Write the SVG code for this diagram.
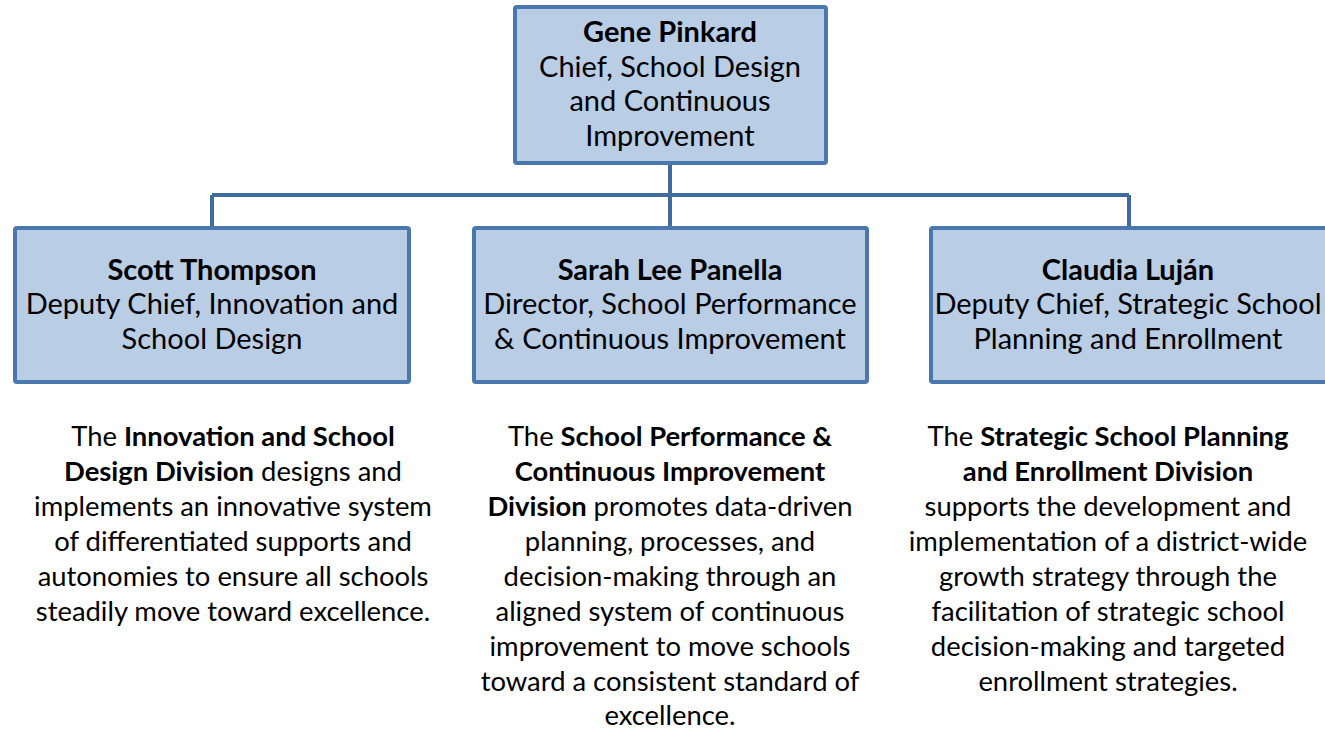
<svg xmlns="http://www.w3.org/2000/svg" width="1325" height="730" viewBox="0 0 1325 730">
<style>
.box{fill:#b9cde5;stroke:#4a78ae;stroke-width:4}
.con{fill:none;stroke:#3f6b9f;stroke-width:4}
text{font-family:Lato,"Liberation Sans",sans-serif;font-size:29px;fill:#000;text-anchor:middle}
.d text{font-size:27.4px}
.b{font-weight:bold}
</style>
<rect width="1325" height="730" fill="#fff"/>
<g id="connectors">
<path class="con" d="M670,163 V195 M212,195 H1129 M212,195 V228 M670,195 V228 M1129,195 V228"/>
</g>
<g id="node-gene">
<rect class="box" x="515" y="7" width="311" height="156" rx="2"/>
<text x="670" y="42" class="b">Gene Pinkard</text>
<text x="670" y="77">Chief, School Design</text>
<text x="670" y="111">and Continuous</text>
<text x="670" y="146">Improvement</text>
</g>
<g id="node-scott">
<rect class="box" x="15" y="228" width="394" height="154" rx="2"/>
<text x="212" y="280" class="b">Scott Thompson</text>
<text x="212" y="314">Deputy Chief, Innovation and</text>
<text x="212" y="349">School Design</text>
</g>
<g id="node-sarah">
<rect class="box" x="474" y="228" width="393" height="154" rx="2"/>
<text x="670" y="280" class="b">Sarah Lee Panella</text>
<text x="670" y="314">Director, School Performance</text>
<text x="670" y="349">&amp; Continuous Improvement</text>
</g>
<g id="node-claudia">
<rect class="box" x="931" y="228" width="396" height="154" rx="2"/>
<text x="1128" y="280" class="b">Claudia Luján</text>
<text x="1128" y="314">Deputy Chief, Strategic School</text>
<text x="1128" y="349">Planning and Enrollment</text>
</g>
<g id="desc-innovation" class="d">
<text x="233" y="446">The <tspan class="b">Innovation and School</tspan></text>
<text x="233" y="481"><tspan class="b">Design Division</tspan> designs and</text>
<text x="233" y="516">implements an innovative system</text>
<text x="233" y="551">of differentiated supports and</text>
<text x="233" y="586">autonomies to ensure all schools</text>
<text x="233" y="621">steadily move toward excellence.</text>
</g>
<g id="desc-performance" class="d">
<text x="670" y="446">The <tspan class="b">School Performance &amp;</tspan></text>
<text x="670" y="481" class="b">Continuous Improvement</text>
<text x="670" y="516"><tspan class="b">Division</tspan> promotes data-driven</text>
<text x="670" y="551">planning, processes, and</text>
<text x="670" y="586">decision-making through an</text>
<text x="670" y="621">aligned system of continuous</text>
<text x="670" y="656">improvement to move schools</text>
<text x="670" y="691">toward a consistent standard of</text>
<text x="670" y="725">excellence.</text>
</g>
<g id="desc-planning" class="d">
<text x="1108" y="446">The <tspan class="b">Strategic School Planning</tspan></text>
<text x="1108" y="481" class="b">and Enrollment Division</text>
<text x="1108" y="516">supports the development and</text>
<text x="1108" y="551">implementation of a district-wide</text>
<text x="1108" y="586">growth strategy through the</text>
<text x="1108" y="621">facilitation of strategic school</text>
<text x="1108" y="656">decision-making and targeted</text>
<text x="1108" y="691">enrollment strategies.</text>
</g>
</svg>
